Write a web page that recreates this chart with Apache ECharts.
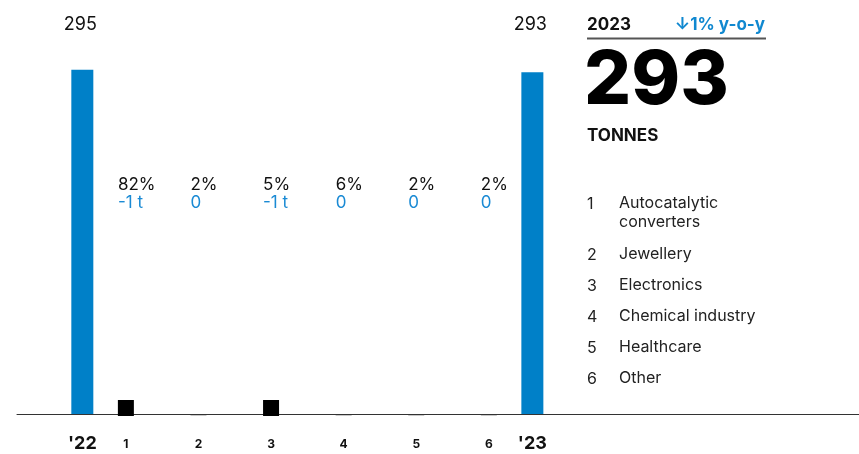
<!DOCTYPE html>
<html>
<head>
<meta charset="utf-8">
<script src="https://cdn.jsdelivr.net/npm/echarts/dist/echarts.min.js"></script>
<style>
  html, body { margin: 0; padding: 0; background: #fff; }
  #chart { width: 859px; height: 454px; }
</style>
</head>
<body>
<div id="chart"></div>
<script>
// ---- data ----
const periods = ["'22", "'23"];
const totals = [295, 293];
const segments = ['1', '2', '3', '4', '5', '6'];
const segmentNames = ['Autocatalytic\nconverters', 'Jewellery', 'Electronics', 'Chemical industry', 'Healthcare', 'Other'];
const shares = ['82%', '2%', '5%', '6%', '2%', '2%'];
const changes = [-1, 0, -1, 0, 0, 0];
const changeLabels = ['-1 t', '0', '-1 t', '0', '0', '0'];
const headlineYear = '2023';
const headlineChange = '↓1% y-o-y';
const headlineTotal = '293';
const headlineUnit = 'TONNES';

// ---- layout: the x axis is split into narrow slots so the bars can sit unevenly ----
const FONT = 'Inter, "Noto Sans", sans-serif';
const BLUE = '#0080c8';
const slotCount = 58;
// slot used by '22, segments 1..6, '23
const slotOf = [4, 7, 12, 17, 22, 27, 32, 35];

const slots = [];
const slotLabel = [];
for (let i = 0; i < slotCount; i++) { slots.push('s' + i); slotLabel.push(''); }
const order = [periods[0]].concat(segments, [periods[1]]);
order.forEach((name, k) => { slotLabel[slotOf[k]] = name; });

const totalData = new Array(slotCount).fill('-');
totalData[slotOf[0]] = totals[0];
totalData[slotOf[7]] = totals[1];

const changeData = new Array(slotCount).fill('-');
const segAtSlot = {};
segments.forEach((s, i) => {
  changeData[slotOf[i + 1]] = Math.abs(changes[i]);
  segAtSlot[slotOf[i + 1]] = i;
});

const chart = echarts.init(document.getElementById('chart'), null, { renderer: 'canvas' });

// right-hand panel text
const graphics = [
  { type: 'text', left: 587, top: 16, style: { text: headlineYear, font: 'bold 17px ' + FONT, fill: '#111' } },
  { type: 'text', right: 859 - 765, top: 16, style: { text: headlineChange, font: 'bold 17px ' + FONT, fill: '#1088d0' } },
  { type: 'line', shape: { x1: 587, y1: 38.5, x2: 766, y2: 38.5 }, style: { stroke: '#555', lineWidth: 2 } },
  { type: 'text', left: 584, top: 45, style: { text: headlineTotal, font: '800 74px ' + FONT, fill: '#000' } },
  { type: 'text', left: 587, top: 127, style: { text: headlineUnit, font: 'bold 17px ' + FONT, fill: '#111' } }
];
const rowY = [204, 255, 286, 317, 348, 379];
segments.forEach((s, i) => {
  graphics.push({ type: 'text', left: 587, top: rowY[i] - 10, style: { text: s, font: '16px ' + FONT, fill: '#222', lineHeight: 20 } });
  graphics.push({ type: 'text', left: 619, top: rowY[i] - 10, style: { text: segmentNames[i], font: '16px ' + FONT, fill: '#222', lineHeight: 19 } });
});

const option = {
  animation: false,
  textStyle: { fontFamily: FONT },
  grid: [
    { left: 17, right: 0, top: 64, bottom: 40 },
    { left: 17, right: 0, top: 64, bottom: 38 }
  ],
  xAxis: [
    {
      type: 'category', gridIndex: 0, data: slots,
      axisLine: { lineStyle: { color: '#333', width: 1 } },
      axisTick: { show: false },
      axisLabel: {
        interval: 0, margin: 20,
        formatter: (v, idx) => {
          const t = slotLabel[idx];
          if (!t) return '';
          return periods.indexOf(t) >= 0 ? '{big|' + t + '}' : '{small|' + t + '}';
        },
        rich: {
          big: { fontSize: 18, fontWeight: 'bold', color: '#111', lineHeight: 20, fontFamily: FONT },
          small: { fontSize: 12, fontWeight: 'bold', color: '#111', lineHeight: 20, fontFamily: FONT }
        }
      }
    },
    {
      type: 'category', gridIndex: 1, data: slots,
      axisLine: { show: false }, axisTick: { show: false }, axisLabel: { show: false }
    }
  ],
  yAxis: [
    { type: 'value', gridIndex: 0, min: 0, max: 300, show: false },
    { type: 'value', gridIndex: 1, min: 0, max: 22, show: false }
  ],
  graphic: graphics,
  series: [
    {
      name: 'Total', type: 'bar', xAxisIndex: 0, yAxisIndex: 0,
      data: totalData, barWidth: 22,
      itemStyle: { color: BLUE },
      label: {
        show: true, position: 'insideBottom', distance: 0, offset: [-2, -380],
        color: '#111', fontSize: 18, fontFamily: FONT
      }
    },
    {
      name: 'Change', type: 'bar', xAxisIndex: 1, yAxisIndex: 1,
      data: changeData, barWidth: 16, barMinHeight: 1,
      itemStyle: { color: (p) => (p.value === 0 ? '#c8c8c8' : '#000') },
      label: {
        show: true, position: 'insideBottomLeft', distance: 0, offset: [0, -204],
        formatter: (p) => {
          const i = segAtSlot[p.dataIndex];
          return '{p|' + shares[i] + '}\n{c|' + changeLabels[i] + '}';
        },
        rich: {
          p: { fontSize: 17, color: '#111', lineHeight: 18, fontFamily: FONT },
          c: { fontSize: 17, color: '#1a8ad4', lineHeight: 18, fontFamily: FONT }
        }
      }
    }
  ]
};
chart.setOption(option);
</script>
</body>
</html>
